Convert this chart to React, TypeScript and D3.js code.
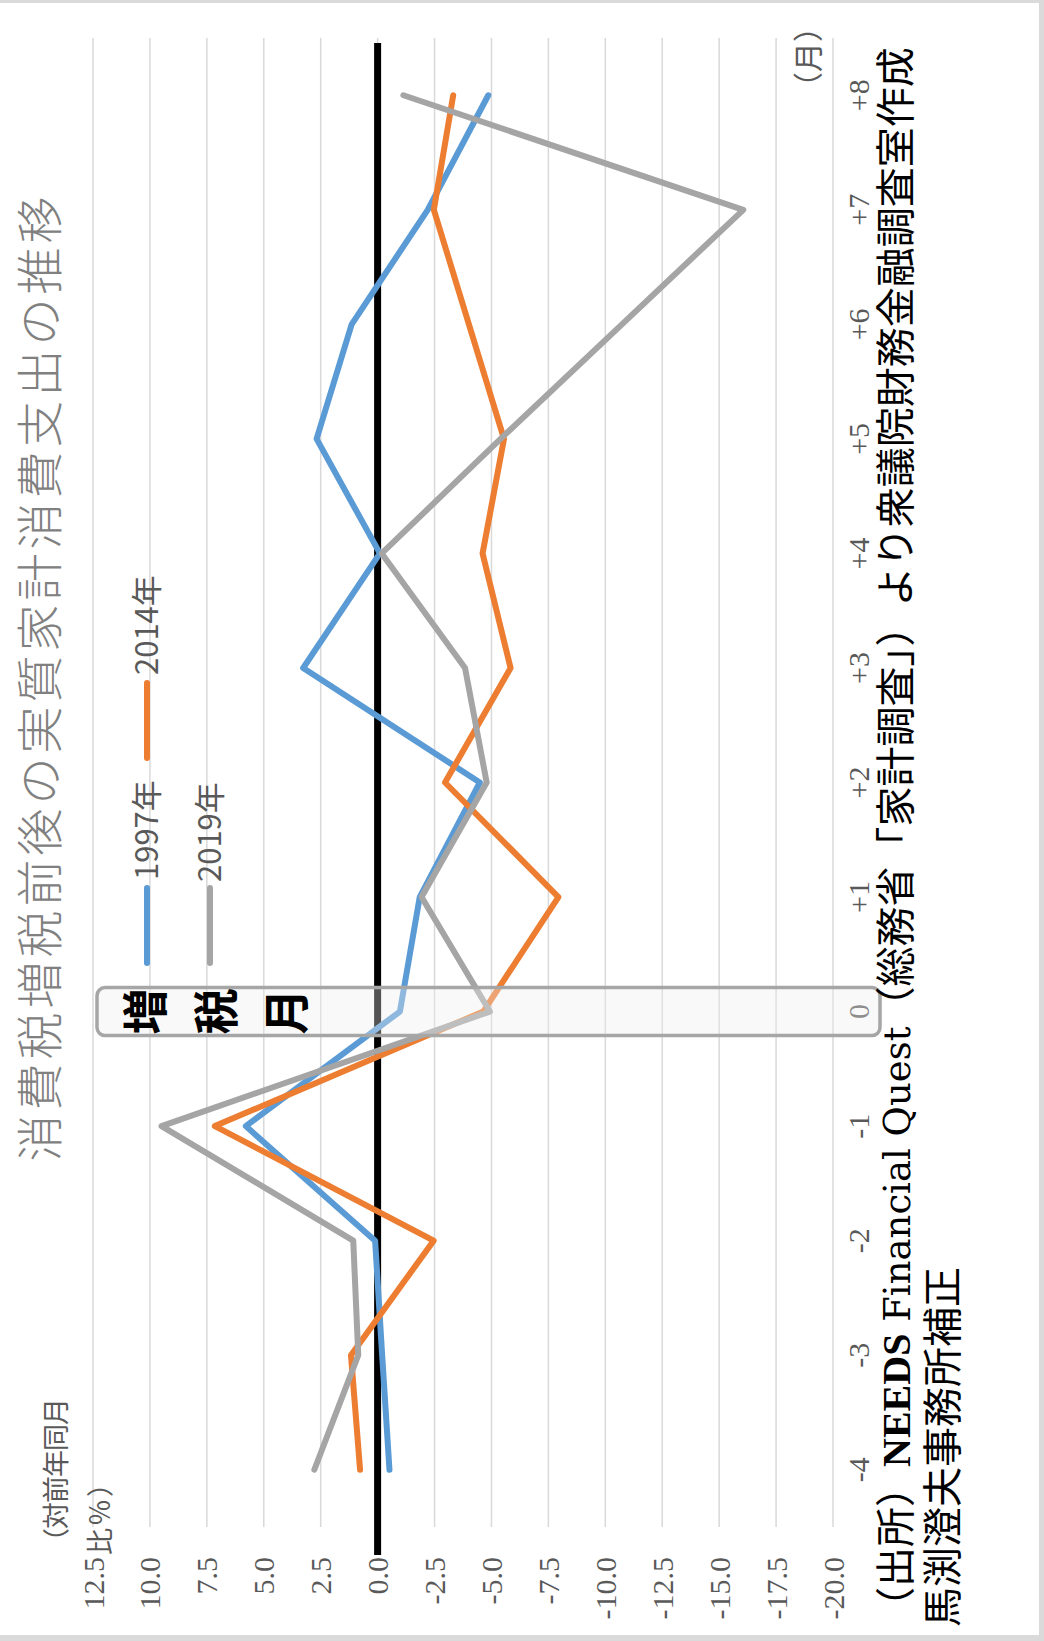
import React from "react";
import * as d3 from "d3";

// months relative to the tax hike
const months = ["-4", "-3", "-2", "-1", "0", "+1", "+2", "+3", "+4", "+5", "+6", "+7", "+8"];
// year-on-year change, %
const s1997 = [-0.52, -0.2, 0.11, 5.79, -0.98, -1.85, -4.49, 3.27, -0.1, 2.68, 1.14, -2.2, -4.86];
const s2014 = [0.77, 1.17, -2.46, 7.15, -4.64, -7.94, -2.96, -5.84, -4.61, -5.55, -4.01, -2.47, -3.32];
const s2019 = [2.78, 0.85, 1.07, 9.49, -4.93, -1.93, -4.79, -3.84, -0.18, -5.4, -10.73, -16.06, -1.13];
const valueTicks = [12.5, 10, 7.5, 5, 2.5, 0, -2.5, -5, -7.5, -10, -12.5, -15, -17.5, -20];
const seriesNames = ["1997年", "2014年", "2019年"];
const seriesColors = ["#5B9BD5", "#ED7D31", "#A5A5A5"];

const W = 1044;
const H = 1641;
const jp = "'Noto Sans CJK JP', sans-serif";
const serif = "'Liberation Serif', serif";

export default function App() {
  // chart is laid out in its natural orientation, then turned 90deg counter-clockwise
  const x = d3.scaleBand<string>().domain(months).range([114, 1603]);
  const y = d3.scaleLinear().domain([-20, 12.5]).range([833, 93]);
  const cx = (m: string) => (x(m) as number) + x.bandwidth() / 2;
  const line = d3
    .line<number>()
    .x((_, i) => cx(months[i]))
    .y((v) => y(v));
  const all = [s1997, s2014, s2019];

  const legend = [
    { lx: 678, ly: 147, tx: 761 },
    { lx: 883, ly: 147, tx: 966 },
    { lx: 678, ly: 210, tx: 759 },
  ];

  return (
    <svg width={W} height={H} style={{ position: "absolute", left: 0, top: 0 }}>
      <rect width={W} height={H} fill="#dadada" />
      <rect x={0} y={3} width={1039} height={1632} fill="#fff" />
      <g transform={`translate(0,${H}) rotate(-90)`}>
        {/* title */}
        <text x={964} y={57} textAnchor="middle" fontFamily={jp} fontSize={47} fontWeight={300}
          letterSpacing={4} fill="#808080">
          消費税増税前後の実質家計消費支出の推移
        </text>

        {/* gridlines */}
        {valueTicks.map((v) => (
          <line key={v} x1={114} x2={1603} y1={y(v)} y2={y(v)} stroke="#d9d9d9" strokeWidth={1.5} />
        ))}

        {/* value labels */}
        {valueTicks.map((v) => (
          <text key={"t" + v} x={84} y={y(v)} dy="0.35em" textAnchor="end" fontFamily={serif}
            fontSize={30} fill="#595959">
            {v.toFixed(1)}
          </text>
        ))}

        {/* unit */}
        <text x={86} y={57} dy="0.35em" fontFamily={jp} fontSize={27} letterSpacing={-1} fill="#595959">（対前年同月</text>
        <text x={86} y={101} dy="0.35em" fontFamily={jp} fontSize={27} letterSpacing={2} fill="#595959">比％）</text>

        {/* month labels */}
        {months.map((m) => (
          <text key={m} x={cx(m)} y={869} textAnchor="middle" fontFamily={serif} fontSize={30} fill="#595959">
            {m}
          </text>
        ))}
        <text x={1584} y={808} dy="0.35em" textAnchor="middle" fontFamily={jp} fontSize={30} fill="#595959">
          （月）
        </text>

        {/* zero line */}
        <line x1={86} x2={1598} y1={y(0)} y2={y(0)} stroke="#000" strokeWidth={7} />

        {/* series */}
        {all.map((s, i) => (
          <path key={i} d={line(s) as string} fill="none" stroke={seriesColors[i]} strokeWidth={6}
            strokeLinejoin="round" strokeLinecap="round" />
        ))}

        {/* legend */}
        {legend.map((l, i) => (
          <g key={i}>
            <line x1={l.lx} x2={l.lx + 75} y1={l.ly} y2={l.ly} stroke={seriesColors[i]} strokeWidth={6}
              strokeLinecap="round" />
            <text x={l.tx} y={l.ly} dy="0.35em" fontFamily={jp} fontSize={31} fill="#595959">
              {seriesNames[i]}
            </text>
          </g>
        ))}

        {/* tax hike month box */}
        <rect x={cx("0") - 24} y={97} width={48} height={783} rx={8} fill="#eeeeee" fillOpacity={0.35}
          stroke="#a6a6a6" strokeWidth={3.5} />
        {["増", "税", "月"].map((c, i) => (
          <text key={c} x={cx("0")} y={146 + i * 70.5} dy="0.35em" textAnchor="middle" fontFamily={jp}
            fontSize={46} fontWeight={700} fill="#000">
            {c}
          </text>
        ))}

        {/* source */}
        <text x={14} y={910} fontFamily={jp} fontSize={40} fill="#000">
          （出所）
          <tspan fontFamily={serif} fontSize={40} fontWeight={700}>NEEDS</tspan>
          <tspan fontFamily="'DejaVu Serif', serif" fontSize={37}> Financial Quest</tspan>
          （総務省「家計調査」）より衆議院財務金融調査室作成
        </text>
        <text x={14} y={957} fontFamily={jp} fontSize={40} fill="#000">
          馬渕澄夫事務所補正
        </text>
      </g>
    </svg>
  );
}
